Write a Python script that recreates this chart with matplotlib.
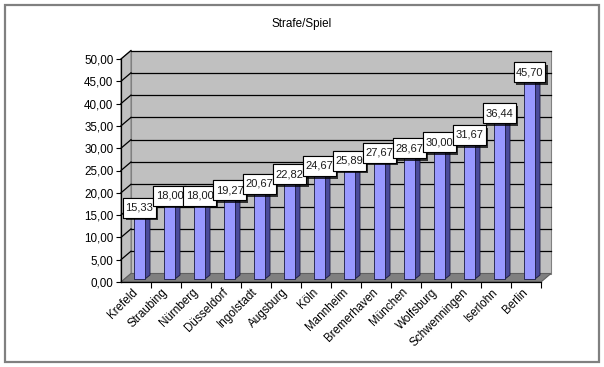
import matplotlib
matplotlib.use('Agg')
import matplotlib.pyplot as plt
from matplotlib.patches import Polygon, Rectangle
from matplotlib.path import Path
import matplotlib.patheffects as pe

categories = ['Krefeld', 'Straubing', 'Nürnberg', 'Düsseldorf', 'Ingolstadt',
              'Augsburg', 'Köln', 'Mannheim', 'Bremerhaven', 'München',
              'Wolfsburg', 'Schwenningen', 'Iserlohn', 'Berlin']
values = [15.33, 18.00, 18.00, 19.27, 20.67, 22.82, 24.67, 25.89, 27.67,
          28.67, 30.00, 31.67, 36.44, 45.70]
yticks = [0, 5, 10, 15, 20, 25, 30, 35, 40, 45, 50]
title = 'Strafe/Spiel'

plt.rcParams['font.family'] = ['Liberation Sans', 'DejaVu Sans']

W, H = 604, 367
fig = plt.figure(figsize=(W / 100, H / 100), dpi=100)
fig.patch.set_facecolor('white')

# front plane of the 3D box, in pixels
L, R, T, B = 121, 541, 59, 282
ax = fig.add_axes([L / W, 1 - B / H, (R - L) / W, (B - T) / H])
n = len(categories)
ymax = yticks[-1]
ax.set_xlim(-0.5, n - 0.5)
ax.set_ylim(0, ymax)
ax.patch.set_visible(False)

ppx = (R - L) / n
ppy = (B - T) / ymax


def off(dxp, dyp):
    return dxp / ppx, dyp / ppy


wdx, wdy = off(10, 8.5)   # depth of the chart box
x0, x1 = -0.5, n - 0.5

# back wall
ax.add_patch(Rectangle((x0 + wdx, wdy), n, ymax, facecolor='#C0C0C0',
                       edgecolor='#808080', lw=0.8, zorder=0, clip_on=False))
# side wall
ax.add_patch(Polygon([(x0, 0), (x0, ymax), (x0 + wdx, ymax + wdy), (x0 + wdx, wdy)],
                     closed=True, facecolor='#C0C0C0', edgecolor='#808080',
                     lw=0.8, zorder=0.5, clip_on=False))
# gridlines on back wall and side wall
for t in yticks:
    if t == 0:
        continue
    ax.plot([x0 + wdx, x1 + wdx], [t + wdy, t + wdy], color='black', lw=0.9,
            zorder=1, clip_on=False)
    ax.plot([x0, x0 + wdx], [t, t + wdy], color='black', lw=0.9,
            zorder=1, clip_on=False)
# floor
ax.add_patch(Polygon([(x0, 0), (x1, 0), (x1 + wdx, wdy), (x0 + wdx, wdy)],
                     closed=True, facecolor='#808080', edgecolor='#606060',
                     lw=0.8, zorder=2, clip_on=False))

# bars (pseudo 3D)
bdx, bdy = off(3.5, 3)
sdx, sdy = off(5, 4)
bw = 11 / 30
xs = list(range(n))
front_x = [x + bdx for x in xs]
ax.bar(front_x, values, width=bw, bottom=bdy, color='#9999FF',
       edgecolor='#1a1a40', linewidth=0.6, zorder=4, clip_on=False)
for fx, v in zip(front_x, values):
    r = fx + bw / 2
    l = fx - bw / 2
    ax.add_patch(Polygon([(r, bdy), (r, bdy + v), (r + sdx, bdy + v + sdy), (r + sdx, bdy + sdy)],
                         closed=True, facecolor='#4B4B9A', edgecolor='#1a1a40',
                         lw=0.6, zorder=3.9, clip_on=False))
    ax.add_patch(Polygon([(l, bdy + v), (r, bdy + v), (r + sdx, bdy + v + sdy), (l + sdx, bdy + v + sdy)],
                         closed=True, facecolor='#7070CC', edgecolor='#1a1a40',
                         lw=0.6, zorder=3.9, clip_on=False))


def label_box(x0_, y0_, width, height, mutation_size):
    px = 0.2 * mutation_size
    py = 0.45 * mutation_size
    a, b = x0_ - px, y0_ - py
    c, d = x0_ + width + px, y0_ + height + py
    return Path([(a, b), (c, b), (c, d), (a, d), (a, b)],
                [Path.MOVETO, Path.LINETO, Path.LINETO, Path.LINETO, Path.CLOSEPOLY])


# data labels
lbdy = off(0, 3)[1]
for i, (fx, v) in enumerate(zip(front_x, values)):
    t = ax.text(fx, bdy + v + lbdy, f'{v:.2f}'.replace('.', ','),
                ha='center', va='center', fontsize=8, color='#1a1a1a',
                zorder=10 + i, clip_on=False,
                bbox=dict(boxstyle=label_box, facecolor='white',
                          edgecolor='black', linewidth=0.8))
    t.get_bbox_patch().set_path_effects(
        [pe.withSimplePatchShadow(offset=(2, -2), shadow_rgbFace='black', alpha=0.75),
         pe.Normal()])

# axes styling
for s in ['top', 'right']:
    ax.spines[s].set_visible(False)
ax.spines['left'].set_linewidth(0.9)
ax.spines['bottom'].set_linewidth(0.9)
ax.spines['left'].set_zorder(5)
ax.spines['bottom'].set_zorder(5)

ax.set_yticks(yticks)
ax.set_yticklabels([f'{t:.2f}'.replace('.', ',') for t in yticks])
ax.tick_params(axis='y', direction='out', length=3.5, width=0.8, pad=2,
               labelsize=8.4, colors='black')

ax.set_xticks(xs)
ax.set_xticklabels(categories)
ax.set_xticks([x + 0.5 for x in xs], minor=True)
ax.tick_params(axis='x', which='major', length=0, pad=6, labelsize=8.4)
ax.tick_params(axis='x', which='minor', direction='out', length=4, width=0.8)
for lab in ax.get_xticklabels():
    lab.set_rotation(45)
    lab.set_ha('right')
    lab.set_va('center')
    lab.set_rotation_mode('anchor')

fig.text(0.5, 1 - 24 / H, title, ha='center', va='center', fontsize=8.4)

# outer border
fig.patches.append(Rectangle((4.5 / W, 1 - 361.5 / H), 594 / W, 357 / H,
                             transform=fig.transFigure, fill=False,
                             edgecolor='#808080', linewidth=1.6, zorder=0))

fig.savefig('out.png', dpi=100)
